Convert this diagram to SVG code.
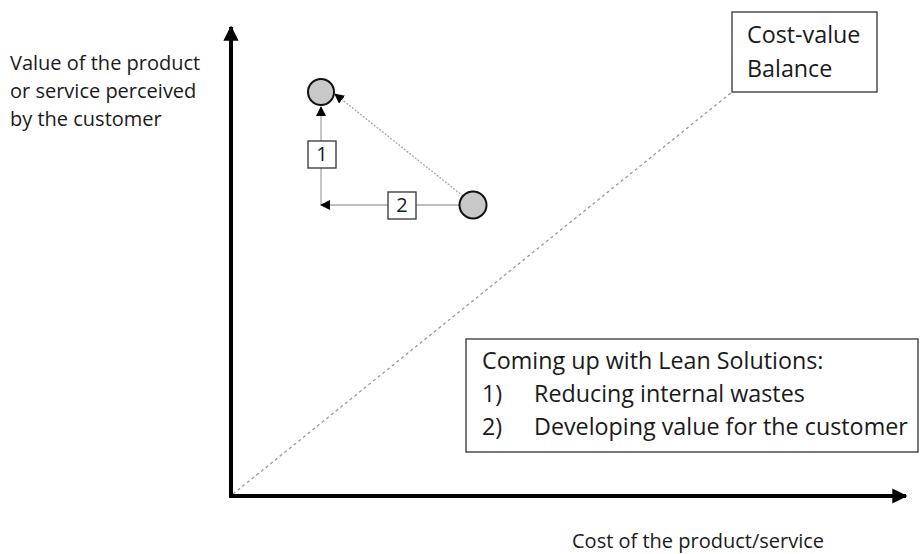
<svg xmlns="http://www.w3.org/2000/svg" width="921" height="554" viewBox="0 0 921 554">
  <defs>
    <marker id="axisHead" viewBox="0 0 10 10" refX="9" refY="5" markerWidth="3.8" markerHeight="3.8" orient="auto" markerUnits="strokeWidth">
      <path d="M0,0 L10,5 L0,10 Z" fill="#000"/>
    </marker>
    <marker id="smallHead" viewBox="0 0 10 10" refX="9" refY="5" markerWidth="10" markerHeight="10" orient="auto" markerUnits="userSpaceOnUse">
      <path d="M0,0 L10,5 L0,10 Z" fill="#000"/>
    </marker>
  </defs>
  <style>
    text { font-family: "Open Sans", "Noto Sans", "DejaVu Sans", sans-serif; fill: #1a1a1a; }
    .lbl { font-size: 20px; }
    .big { font-size: 23.3px; }
    .box { fill: #fff; stroke: #333; stroke-width: 1.3; }
    .dot { fill: #c8c8c8; stroke: #111; stroke-width: 2; }
    .conn { stroke: #a8a8a8; stroke-width: 1.3; fill: none; }
  </style>
  <rect width="921" height="554" fill="#fff"/>

  <g id="connectors">
    <!-- cost-value balance line -->
    <line x1="233" y1="494" x2="732" y2="92" stroke="#999" stroke-width="1.3" stroke-dasharray="3,3"/>
    <!-- axes -->
    <line x1="231" y1="498" x2="231" y2="27" stroke="#000" stroke-width="4" marker-end="url(#axisHead)"/>
    <line x1="229" y1="496" x2="906" y2="496" stroke="#000" stroke-width="4" marker-end="url(#axisHead)"/>
    <!-- move paths -->
    <line class="conn" x1="321" y1="205" x2="321" y2="107" marker-end="url(#smallHead)"/>
    <line class="conn" x1="459" y1="205" x2="321" y2="205" marker-end="url(#smallHead)"/>
    <line class="conn" x1="463" y1="196" x2="335" y2="94" stroke-dasharray="2,1.5" marker-end="url(#smallHead)"/>
  </g>

  <g id="yLabel">
    <text class="lbl" x="10" y="70">Value of the product</text>
    <text class="lbl" x="10" y="98">or service perceived</text>
    <text class="lbl" x="10" y="126">by the customer</text>
  </g>
  <g id="xLabel">
    <text class="lbl" x="572" y="548">Cost of the product/service</text>
  </g>

  <g id="balance">
    <rect class="box" x="732" y="12" width="145" height="80"/>
    <text class="big" x="747" y="43">Cost-value</text>
    <text class="big" x="747" y="77">Balance</text>
  </g>

  <g id="solutions">
    <rect class="box" x="466" y="339" width="452" height="113"/>
    <text class="big" x="482" y="369">Coming up with Lean Solutions:</text>
    <text class="big" x="482" y="402">1)</text>
    <text class="big" x="534" y="402">Reducing internal wastes</text>
    <text class="big" x="482" y="435">2)</text>
    <text class="big" x="534" y="435">Developing value for the customer</text>
  </g>

  <g id="target">
    <circle class="dot" cx="321" cy="92" r="13"/>
  </g>
  <g id="current">
    <circle class="dot" cx="473" cy="205" r="13.5"/>
  </g>

  <g id="step1">
    <rect class="box" x="308" y="141" width="28" height="27"/>
    <text class="lbl" x="322" y="161" text-anchor="middle">1</text>
  </g>
  <g id="step2">
    <rect class="box" x="388" y="192" width="28" height="27"/>
    <text class="lbl" x="402" y="212" text-anchor="middle">2</text>
  </g>
</svg>
